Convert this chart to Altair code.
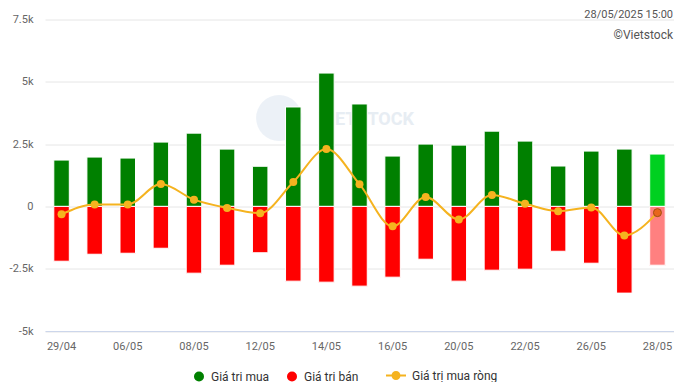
import altair as alt
import pandas as pd

dates = ["29/04", "05/05", "06/05", "07/05", "08/05", "09/05", "12/05", "13/05", "14/05", "15/05",
         "16/05", "19/05", "20/05", "21/05", "22/05", "23/05", "26/05", "27/05", "28/05"]
buy = [1860, 1980, 1940, 2580, 2940, 2300, 1610, 3990, 5350, 4110,
       2020, 2500, 2460, 3020, 2620, 1620, 2220, 2300, 2100]
sell = [-2200, -1920, -1880, -1680, -2680, -2360, -1860, -3000, -3040, -3200,
        -2840, -2120, -3000, -2560, -2520, -1800, -2280, -3480, -2360]
net = [-320, 80, 80, 900, 270, -60, -270, 980, 2300, 890,
       -800, 380, -530, 460, 105, -190, -40, -1165, -250]
series_names = ["Giá trị mua", "Giá trị bán", "Giá trị mua ròng"]
stamp = "28/05/2025 15:00"
credit = "©Vietstock"
y_ticks = [-5000, -2500, 0, 2500, 5000, 7500]
x_labels = dates[::2]

W, H = 629, 311.5

bars_df = pd.DataFrame({
    "date": dates * 2,
    "value": buy + sell,
    "series": [series_names[0]] * len(dates) + [series_names[1]] * len(dates),
})
last = dates[-1]
last_df = pd.DataFrame({
    "date": [last, last],
    "value": [buy[-1], sell[-1]],
    "col": ["#00d020", "#ff8080"],
})
net_df = pd.DataFrame({"date": dates, "value": net, "series": series_names[2]})
net_last = net_df.iloc[[-1]]

x_enc = alt.X("date:N", sort=dates, title=None,
              scale=alt.Scale(paddingInner=0.5, paddingOuter=0.25),
              axis=alt.Axis(values=x_labels, labelAngle=0, ticks=False, grid=False,
                            domainColor="#ccd6eb", labelColor="#666666", labelFontSize=11,
                            labelPadding=9))
y_enc = alt.Y("value:Q", title=None, stack=None,
              scale=alt.Scale(domain=[-5000, 7500], nice=False, zero=False),
              axis=alt.Axis(values=y_ticks, domain=False, ticks=False, gridColor="#e6e6e6",
                            labelColor="#666666", labelFontSize=11, labelPadding=12,
                            labelExpr="datum.value == 0 ? '0' : (datum.value < 0 ? '-' : '') + (abs(datum.value) / 1000) + 'k'"))

bars = alt.Chart(bars_df).mark_bar(size=15.5, stroke="white", strokeWidth=1).encode(
    x=x_enc, y=y_enc,
    color=alt.Color("series:N",
                    scale=alt.Scale(domain=series_names[:2], range=["#008000", "#ff0000"]),
                    legend=alt.Legend(orient="none", direction="horizontal", title=None,
                                      legendX=148, legendY=351, symbolType="circle",
                                      symbolSize=100, symbolStrokeWidth=0,
                                      labelFontSize=12, labelColor="#333333",
                                      labelOffset=6, columnPadding=16, padding=0)),
)
last_bars = alt.Chart(last_df).mark_bar(size=15.5, stroke="white", strokeWidth=1).encode(
    x=alt.X("date:N", sort=dates), y=alt.Y("value:Q", stack=None),
    color=alt.Color("col:N", scale=None),
)

line = alt.Chart(net_df).mark_line(color="#f5b31f", strokeWidth=2, interpolate="monotone").encode(
    x=alt.X("date:N", sort=dates), y=alt.Y("value:Q"),
)
pts = alt.Chart(net_df).mark_circle(size=64, opacity=1).encode(
    x=alt.X("date:N", sort=dates), y=alt.Y("value:Q"),
    color=alt.Color("series:N",
                    scale=alt.Scale(domain=[series_names[2]], range=["#f5b31f"]),
                    legend=alt.Legend(orient="none", direction="horizontal", title=None,
                                      legendX=341, legendY=346,
                                      symbolType="M-1,-0.1H1V0.1H-1Z M0.45,0A0.45,0.45 0 1,1 -0.45,0A0.45,0.45 0 1,1 0.45,0Z",
                                      symbolSize=400, symbolStrokeWidth=0,
                                      symbolFillColor="#f5b31f",
                                      labelFontSize=12, labelColor="#333333",
                                      labelOffset=6, padding=0)),
)
last_pt = alt.Chart(net_last).mark_point(size=64, filled=True, opacity=1, fill="#e8661c",
                                         stroke="#a24b14", strokeWidth=1).encode(
    x=alt.X("date:N", sort=dates), y=alt.Y("value:Q"),
)

stamp_t = alt.Chart(pd.DataFrame({"t": [stamp]})).mark_text(
    align="right", baseline="middle", fontSize=11, color="#555555").encode(
    x=alt.value(W - 1), y=alt.value(-5), text="t:N")
credit_t = alt.Chart(pd.DataFrame({"t": [credit]})).mark_text(
    align="right", baseline="middle", fontSize=12, color="#555555").encode(
    x=alt.value(W - 1), y=alt.value(15.5), text="t:N")
wm_circle = alt.Chart(pd.DataFrame({"t": ["logo"]})).mark_circle(
    size=2100, color="#e4ebf3", opacity=0.7).encode(
    x=alt.value(234), y=alt.value(98.5))
wm = alt.Chart(pd.DataFrame({"t": ["VIETSTOCK"]})).mark_text(
    align="center", baseline="middle", fontSize=18, fontWeight="bold", color="#e2e9f1",
    opacity=0.8).encode(
    x=alt.value(321), y=alt.value(100.5), text="t:N")

chart = alt.layer(wm_circle, wm, bars, last_bars, line, pts, last_pt, stamp_t, credit_t).resolve_scale(
    color="independent"
).properties(
    width=W, height=H,
    autosize=alt.AutoSizeParams(type="none"),
    padding={"left": 37, "top": 11.5, "right": 0, "bottom": 51},
).configure(font="Roboto").configure_view(stroke=None)

chart.save("out.html", embed_options={"renderer": "svg", "actions": False})
